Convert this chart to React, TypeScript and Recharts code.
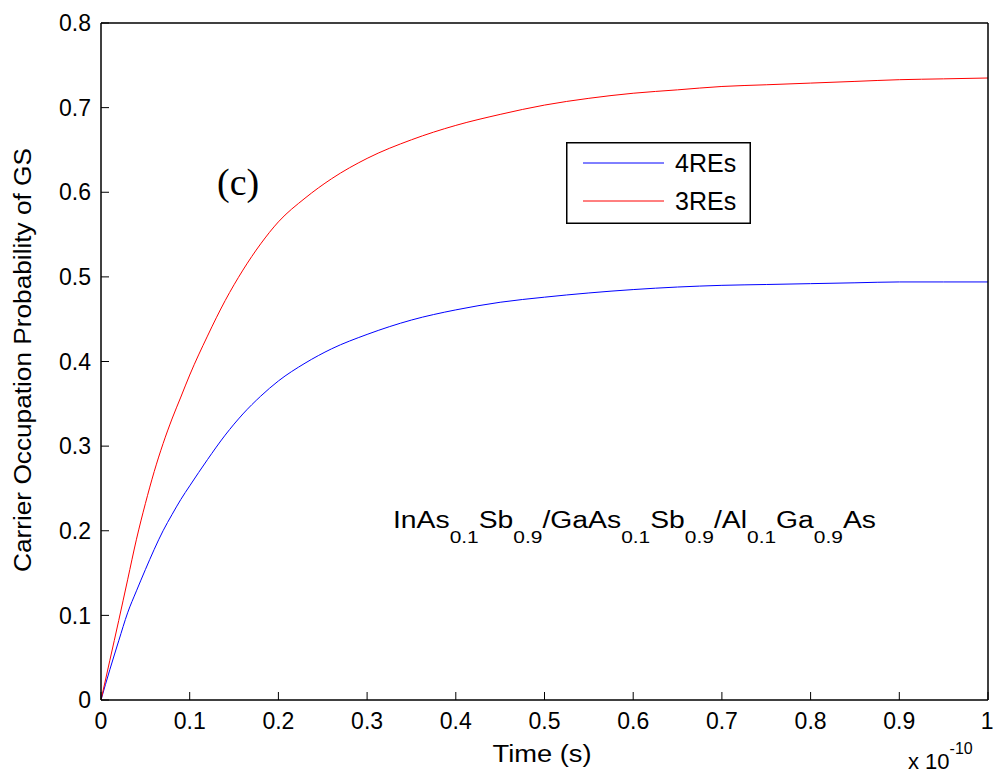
import React from "react";
import {
  LineChart, Line, XAxis, YAxis, Legend, Customized,
} from "recharts";

// time in units of 1e-10 s
const TIME = [
  0, 0.01, 0.02, 0.03, 0.04, 0.05, 0.06, 0.07, 0.08, 0.09, 0.1,
  0.12, 0.14, 0.16, 0.18, 0.2, 0.23, 0.26, 0.3, 0.35, 0.4, 0.45,
  0.5, 0.55, 0.6, 0.65, 0.7, 0.75, 0.8, 0.85, 0.9, 0.95, 1.0,
];

const RE4 = [
  0, 0.036, 0.07, 0.103, 0.129, 0.154, 0.178, 0.2, 0.219, 0.237, 0.253,
  0.284, 0.313, 0.338, 0.359, 0.377, 0.398, 0.415, 0.432, 0.449, 0.461, 0.47,
  0.476, 0.481, 0.485, 0.488, 0.49, 0.491, 0.492, 0.493, 0.494, 0.494, 0.494,
];

const RE3 = [
  0, 0.047, 0.094, 0.142, 0.19, 0.232, 0.27, 0.303, 0.332, 0.358, 0.384,
  0.43, 0.472, 0.508, 0.539, 0.565, 0.593, 0.616, 0.64, 0.662, 0.679, 0.692,
  0.703, 0.711, 0.717, 0.721, 0.725, 0.727, 0.729, 0.731, 0.733, 0.734, 0.735,
];

const SERIES_NAMES = ["4REs", "3REs"];
const X_TICKS = [0, 0.1, 0.2, 0.3, 0.4, 0.5, 0.6, 0.7, 0.8, 0.9, 1];
const Y_TICKS = [0, 0.1, 0.2, 0.3, 0.4, 0.5, 0.6, 0.7, 0.8];

const data = TIME.map((t, i) => ({ t, re4: RE4[i], re3: RE3[i] }));

const SANS = "'Liberation Sans', Arial, sans-serif";
const SERIF = "'Liberation Serif', 'Times New Roman', serif";

const tickStyle = { fill: "#000", fontSize: 23, fontFamily: SANS };
const frame = { stroke: "#000", strokeWidth: 1.5 };

function LegendBox({ payload }: any) {
  const items = [...(payload || [])].sort(
    (a: any, b: any) => SERIES_NAMES.indexOf(a.value) - SERIES_NAMES.indexOf(b.value)
  );
  return (
    <svg width={185} height={82} style={{ display: "block" }}>
      <rect x={0.75} y={0.75} width={183.5} height={80.5} fill="#fff" stroke="#000" strokeWidth={1.5} />
      {items.map((it: any, i: number) => {
        const y = 21 + i * 38;
        return (
          <g key={it.value}>
            <line x1={17} x2={98} y1={y} y2={y} stroke={it.color} strokeWidth={1} />
            <text x={109} y={y + 9} fontSize={25} fontFamily={SANS} fill="#000">{it.value}</text>
          </g>
        );
      })}
    </svg>
  );
}

function Annotations() {
  const sub = (s: string) => <tspan fontSize={17} dy={15}>{s}</tspan>;
  return (
    <g fill="#000">
      <text x={217} y={195} fontSize={38} fontFamily={SERIF}>(c)</text>
      <text x={393} y={528} fontSize={23} fontFamily={SANS} textLength={483} lengthAdjust="spacingAndGlyphs">
        InAs{sub("0.1")}<tspan dy={-15}>Sb</tspan>{sub("0.9")}
        <tspan dy={-15}>/GaAs</tspan>{sub("0.1")}<tspan dy={-15}>Sb</tspan>{sub("0.9")}
        <tspan dy={-15}>/Al</tspan>{sub("0.1")}<tspan dy={-15}>Ga</tspan>{sub("0.9")}
        <tspan dy={-15}>As</tspan>
      </text>
      <text
        transform="translate(31,360) rotate(-90)"
        textAnchor="middle"
        fontSize={23}
        fontFamily={SANS}
        textLength={424}
        lengthAdjust="spacingAndGlyphs"
      >
        Carrier Occupation Probability of GS
      </text>
      <text x={542} y={762} textAnchor="middle" fontSize={23} fontFamily={SANS} textLength={99} lengthAdjust="spacingAndGlyphs">
        Time (s)
      </text>
      <text x={908} y={769} fontSize={22} fontFamily={SANS}>
        x 10<tspan fontSize={16} dy={-15}>-10</tspan>
      </text>
    </g>
  );
}

export default function App() {
  return (
    <div style={{ position: "absolute", left: 0, top: 0, background: "#fff" }}>
      <LineChart
        width={993}
        height={777}
        data={data}
        margin={{ top: 22, right: 4, bottom: 0, left: 0 }}
      >
        <XAxis
          xAxisId="b"
          dataKey="t"
          type="number"
          domain={[0, 1]}
          ticks={X_TICKS}
          tickFormatter={(v: number) => String(v)}
          height={77}
          tickSize={-8}
          tickMargin={21}
          tick={tickStyle}
          axisLine={frame}
          tickLine={{ stroke: "#000" }}
          allowDataOverflow
        />
        <XAxis
          xAxisId="top"
          orientation="top"
          dataKey="t"
          type="number"
          domain={[0, 1]}
          ticks={X_TICKS}
          height={1}
          tickSize={-8}
          tick={false}
          axisLine={frame}
          tickLine={{ stroke: "#000" }}
          allowDataOverflow
        />
        <YAxis
          yAxisId="l"
          type="number"
          domain={[0, 0.8]}
          ticks={Y_TICKS}
          tickFormatter={(v: number) => String(v)}
          width={101}
          tickSize={-8}
          tickMargin={18}
          tick={tickStyle}
          axisLine={frame}
          tickLine={{ stroke: "#000" }}
          allowDataOverflow
        />
        <YAxis
          yAxisId="r"
          orientation="right"
          type="number"
          domain={[0, 0.8]}
          ticks={Y_TICKS}
          width={1}
          tickSize={-8}
          tick={false}
          axisLine={frame}
          tickLine={{ stroke: "#000" }}
          allowDataOverflow
        />
        <Line
          xAxisId="b"
          yAxisId="l"
          type="monotone"
          dataKey="re4"
          name="4REs"
          stroke="#0000ff"
          strokeWidth={1}
          dot={false}
          isAnimationActive={false}
        />
        <Line
          xAxisId="b"
          yAxisId="l"
          type="monotone"
          dataKey="re3"
          name="3REs"
          stroke="#ff0000"
          strokeWidth={1}
          dot={false}
          isAnimationActive={false}
        />
        <Legend
          layout="vertical"
          align="center"
          verticalAlign="middle"
          content={<LegendBox />}
          wrapperStyle={{ left: 566, top: 142, width: 185, height: 82 }}
        />
        <Customized component={Annotations} />
      </LineChart>
    </div>
  );
}
